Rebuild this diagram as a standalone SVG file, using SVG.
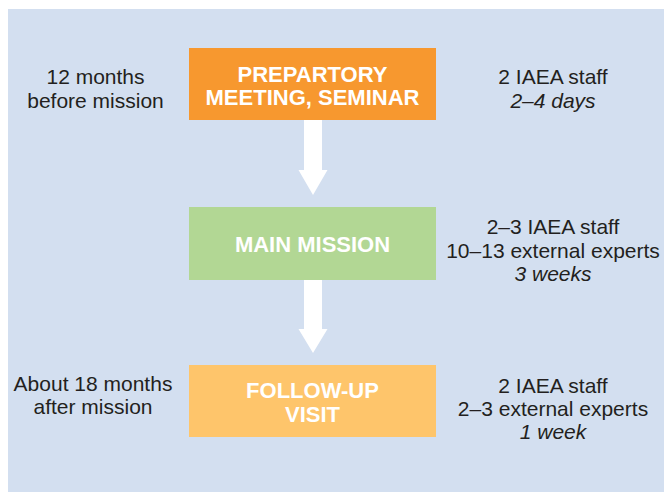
<svg xmlns="http://www.w3.org/2000/svg" width="664" height="492" viewBox="0 0 664 492">
  <style>
    .box-label { font-family: "Liberation Sans", Arial, sans-serif; font-weight: bold; font-size: 22px; fill: #ffffff; text-anchor: middle; }
    .note { font-family: "Liberation Sans", Arial, sans-serif; font-size: 21px; fill: #231f20; text-anchor: middle; }
    .it { font-style: italic; }
    .arrow { fill: #ffffff; }
  </style>
  <rect x="0" y="0" width="664" height="492" fill="#ffffff"/>
  <rect x="8" y="9" width="656" height="483" fill="#d3dff0"/>

  <g id="connectors">
    <polygon class="arrow" points="304,120 322,120 322,170 327.5,170 313,195 298.5,170 304,170"/>
    <polygon class="arrow" points="304,280 322,280 322,329 327.5,329 313,353 298.5,329 304,329"/>
  </g>

  <g id="node-preparatory">
    <rect x="189" y="48" width="247" height="72" fill="#f7982f"/>
    <text class="box-label" x="312.5" y="81.5">PREPARTORY</text>
    <text class="box-label" x="312.5" y="105">MEETING, SEMINAR</text>
  </g>

  <g id="node-main">
    <rect x="189" y="207" width="247" height="73" fill="#b2d794"/>
    <text class="box-label" x="312.5" y="252">MAIN MISSION</text>
  </g>

  <g id="node-followup">
    <rect x="189" y="365" width="247" height="72" fill="#fec56b"/>
    <text class="box-label" x="312.5" y="397.5">FOLLOW-UP</text>
    <text class="box-label" x="312.5" y="421.5">VISIT</text>
  </g>

  <g id="notes-preparatory">
    <text class="note" x="95.5" y="84">12 months</text>
    <text class="note" x="95.5" y="108">before mission</text>
    <text class="note" x="553" y="83.5">2 IAEA staff</text>
    <text class="note it" x="553" y="107.5">2–4 days</text>
  </g>

  <g id="notes-main">
    <text class="note" x="553" y="234">2–3 IAEA staff</text>
    <text class="note" x="553" y="257.5">10–13 external experts</text>
    <text class="note it" x="553" y="281">3 weeks</text>
  </g>

  <g id="notes-followup">
    <text class="note" x="93" y="391">About 18 months</text>
    <text class="note" x="93" y="414">after mission</text>
    <text class="note" x="553" y="392.5">2 IAEA staff</text>
    <text class="note" x="553" y="415.5">2–3 external experts</text>
    <text class="note it" x="553" y="438.5">1 week</text>
  </g>
</svg>
